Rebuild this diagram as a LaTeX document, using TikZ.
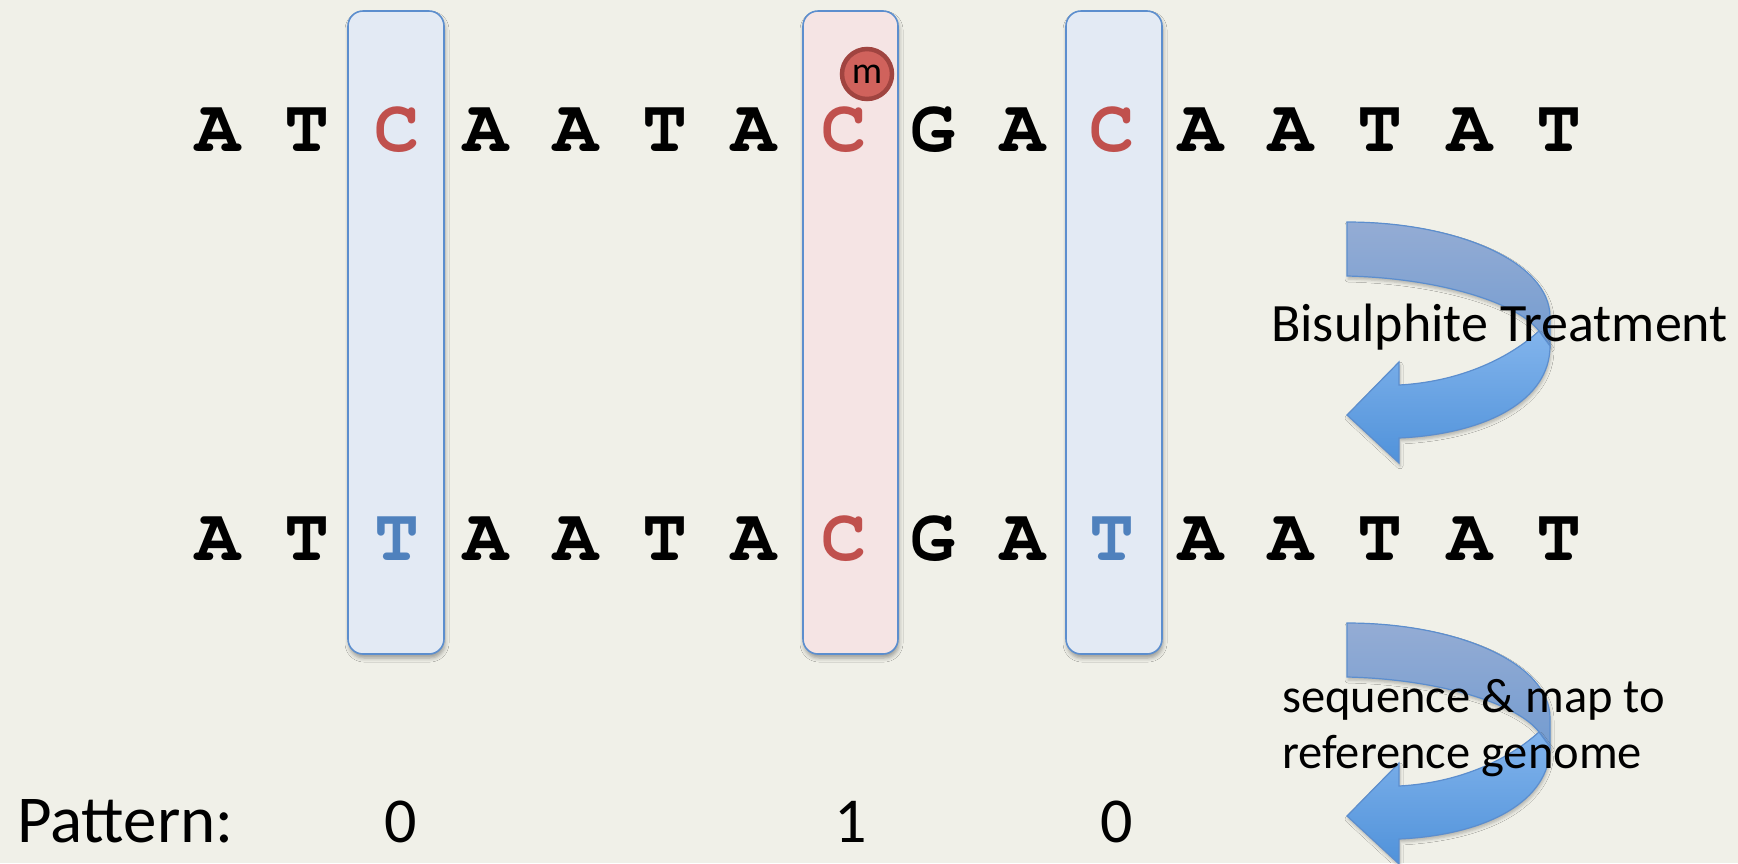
\documentclass[tikz,border=0pt]{standalone}
\usepackage[T1]{fontenc}
\usepackage{fontspec}
\setmainfont{Carlito}
\newcommand\seqfont{\fontencoding{T1}\fontfamily{pcr}\fontseries{b}\selectfont}
\usetikzlibrary{shadows.blur}

\definecolor{bg}{RGB}{240,240,232}
\definecolor{boxline}{RGB}{92,142,206}
\definecolor{bluefill}{RGB}{227,234,244}
\definecolor{pinkfill}{RGB}{245,228,228}
\definecolor{cred}{RGB}{192,80,77}
\definecolor{tblue}{RGB}{79,129,189}
\definecolor{mfill}{RGB}{208,98,92}
\definecolor{mline}{RGB}{160,68,64}
\definecolor{arrline}{RGB}{92,142,206}
\definecolor{arrtopA}{RGB}{148,172,212}
\definecolor{arrbotA}{RGB}{116,156,208}
\definecolor{arrtopB}{RGB}{130,180,236}
\definecolor{arrbotB}{RGB}{80,146,218}

% curved "turn back" arrow, top-left corner of its upper band at the scope origin
\newcommand\turnarrow[1]{%
  \begin{scope}[shift={#1}]
    \path[draw=arrline, line width=1.2pt, top color=arrtopA, bottom color=arrbotA,
          blur shadow={shadow xshift=1pt, shadow yshift=-3pt, shadow blur radius=3pt, shadow opacity=25}]
      (0,0) .. controls (110,0) and (203,40) .. (203,95) -- (203,124)
      -- (192,109) .. controls (170,80) and (90,56) .. (0,54) -- cycle;
    \path[draw=arrline, line width=1.2pt, top color=arrtopB, bottom color=arrbotB,
          blur shadow={shadow xshift=1pt, shadow yshift=-3pt, shadow blur radius=3pt, shadow opacity=25}]
      (192,109) .. controls (160,138) and (110,160) .. (52,163) -- (52,140)
      -- (0,193) -- (52,241) -- (52,216)
      .. controls (140,212) and (203,178) .. (203,124) -- cycle;
  \end{scope}}

\begin{document}
\begin{tikzpicture}[x=1pt, y=-1pt,
  colbox/.style={draw=boxline, line width=1.6pt, rounded corners=15pt,
    minimum width=96pt, minimum height=643pt, inner sep=0pt,
    blur shadow={shadow xshift=1pt, shadow yshift=-4pt, shadow blur radius=4pt, shadow opacity=35}},
  unmeth/.style={colbox, fill=bluefill},
  meth/.style={colbox, fill=pinkfill},
  base/.style={inner sep=0pt, anchor=base,
    font=\seqfont\fontsize{75}{75}\selectfont},
  label/.style={inner sep=0pt, anchor=base west, font=\fontsize{48.5}{48.5}\selectfont},
  patt/.style={inner sep=0pt, anchor=base, font=\fontsize{64}{64}\selectfont}]

  \fill[bg] (0,0) rectangle (1738,863);
  \useasboundingbox (0,0) rectangle (1738,863);

  % highlighted columns
  \node[unmeth] (col1) at (396,332.5) {};
  \node[meth, minimum width=95pt] (col2) at (850.5,332.5) {};
  \node[unmeth] (col3) at (1114,332.5) {};

  % original strand
  \foreach \c/\col [count=\i from 0] in
    {A/black,T/black,C/cred,A/black,A/black,T/black,A/black,C/cred,
     G/black,A/black,C/cred,A/black,A/black,T/black,A/black,T/black}
    \node[base, text=\col] (top\i) at ({218+89.4*\i},151) {\c};

  % strand after bisulphite conversion
  \foreach \c/\col [count=\i from 0] in
    {A/black,T/black,T/tblue,A/black,A/black,T/black,A/black,C/cred,
     G/black,A/black,T/tblue,A/black,A/black,T/black,A/black,T/black}
    \node[base, text=\col] (bot\i) at ({218+89.4*\i},560) {\c};

  % methyl mark
  \node[circle, fill=mfill, draw=mline, line width=4.5pt, minimum size=50pt,
        inner sep=0pt, font=\fontsize{38}{38}\selectfont] (mark) at (867,74) {m};

  % process arrows
  \turnarrow{(1347,222)}
  \turnarrow{(1347,623)}

  \node[label, font=\fontsize{54}{54}\selectfont] (bisul) at (1271,341) {Bisulphite Treatment};
  \node[label] (seqmap) at (1282,712) {sequence \& map to};
  \node[label] (refgen) at (1282,768) {reference genome};

  % methylation pattern
  \node[inner sep=0pt, anchor=base west, font=\fontsize{67}{67}\selectfont] (pattern) at (17,842) {Pattern:};
  \node[patt] (p1) at (401,842) {0};
  \node[patt] (p2) at (851,842) {1};
  \node[patt] (p3) at (1117,842) {0};
\end{tikzpicture}
\end{document}
